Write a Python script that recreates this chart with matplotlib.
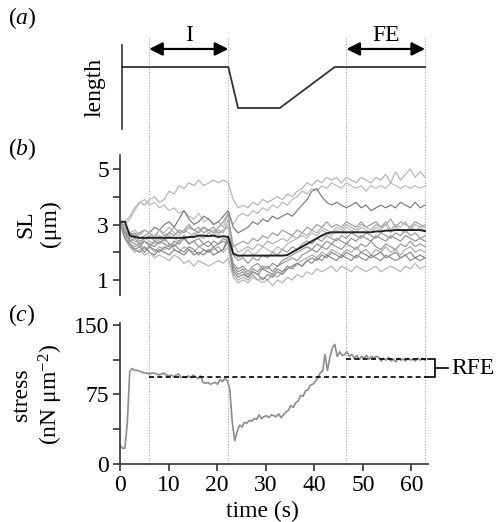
import numpy as np
import matplotlib
matplotlib.use("Agg")
import matplotlib.pyplot as plt
import matplotlib.transforms as mtransforms

plt.rcParams['font.family'] = ['Liberation Serif', 'DejaVu Serif']
plt.rcParams['mathtext.fontset'] = 'custom'
plt.rcParams['mathtext.rm'] = 'Liberation Serif'
plt.rcParams['mathtext.it'] = 'Liberation Serif:italic'

FS = 17
T_END = 62.8

# (a) length protocol: time (s), relative length
length_t = [0.4, 22.3, 24.3, 32.9, 44.2, T_END]
length_y = [1, 1, 0, 0, 1, 1]

# phase boundaries (s)
bounds = [6.0, 22.3, 46.6, T_END]

# (b) sarcomere lengths (um), one sample per ~1 s
sl_traces = [
    [3.0, 3.1, 3.3, 3.6, 3.8, 3.7, 3.9, 4.0, 3.8, 3.9, 4.2, 4.1, 4.4, 4.3, 4.5, 4.4, 4.6, 4.4, 4.5, 4.6, 4.5, 4.6, 4.5,
     3.9, 3.6, 3.7, 3.6, 3.8, 3.7, 3.9, 3.8, 3.9, 4.0, 3.9, 4.1, 4.0, 4.2, 4.3, 4.5, 4.4, 4.6, 4.5, 4.7, 4.6, 4.7, 4.5,
     4.7, 4.6, 4.5, 4.7, 4.6, 4.5, 4.7, 4.6, 4.8, 4.5, 4.9, 4.6, 4.8, 5.0, 4.7, 4.9, 4.7],
    [3.0, 3.0, 3.2, 3.5, 3.8, 3.9, 3.7, 3.8, 3.6, 3.7, 3.5, 3.6, 3.4, 3.5, 3.3, 3.2, 3.4, 3.1, 3.2, 3.0, 3.1, 2.9, 3.4,
     3.0, 3.3, 3.4, 3.3, 3.5, 3.4, 3.6, 3.5, 3.7, 3.6, 3.8, 3.7, 3.9, 4.0, 4.2, 4.1, 4.3, 4.2, 4.4, 4.3, 4.5, 4.4, 4.3,
     4.5, 4.4, 4.3, 4.4, 4.2, 4.4, 4.3, 4.4, 4.3, 4.5, 4.4, 4.3, 4.4, 4.3, 4.4, 4.3, 4.4],
    [3.1, 2.9, 2.7, 2.6, 2.7, 2.8, 2.7, 2.9, 2.8, 3.0, 3.1, 2.9, 3.2, 3.5, 3.2, 3.0, 3.1, 3.3, 3.2, 3.0, 3.1, 3.3, 3.5,
     2.9, 2.7, 2.8, 2.9, 3.1, 3.0, 3.2, 3.1, 3.3, 3.2, 3.3, 3.4, 3.3, 3.5, 3.7, 3.9, 4.2, 4.3, 4.0, 3.8, 3.7, 3.8, 3.7,
     3.6, 3.7, 3.8, 3.6, 3.7, 3.5, 3.6, 3.7, 3.6, 3.7, 3.6, 3.8, 3.7, 3.6, 3.8, 3.6, 3.7],
    [3.0, 2.8, 2.6, 2.7, 2.5, 2.6, 2.7, 2.5, 2.8, 2.6, 2.7, 2.9, 2.7, 2.8, 3.0, 2.8, 2.9, 2.7, 2.8, 2.9, 2.7, 2.8, 2.9,
     2.2, 2.3, 2.4, 2.3, 2.5, 2.4, 2.6, 2.5, 2.7, 2.6, 2.8, 2.7, 2.6, 2.8, 2.7, 2.9, 2.8, 3.0, 2.9, 3.1, 2.9, 3.0, 2.9,
     3.1, 3.0, 2.9, 3.1, 2.9, 3.0, 3.1, 2.9, 3.0, 3.2, 2.9, 3.1, 3.0, 2.9, 3.1, 3.0, 2.9],
    [3.1, 2.8, 2.5, 2.4, 2.3, 2.5, 2.4, 2.3, 2.5, 2.4, 2.6, 2.5, 2.4, 2.6, 2.5, 2.7, 2.6, 2.5, 2.7, 2.6, 2.8, 2.7, 3.2,
     2.3, 2.0, 2.1, 2.2, 2.1, 2.3, 2.2, 2.4, 2.3, 2.4, 2.5, 2.4, 2.6, 2.5, 2.7, 2.6, 2.8, 2.7, 2.9, 2.8, 2.7, 2.9, 2.8,
     3.0, 2.9, 2.8, 3.0, 2.9, 2.8, 3.0, 2.9, 3.1, 2.8, 3.0, 2.9, 3.1, 2.8, 3.0, 2.9, 3.0],
    [3.0, 2.7, 2.4, 2.3, 2.2, 2.4, 2.3, 2.2, 2.4, 2.3, 2.2, 2.4, 2.3, 2.5, 2.3, 2.4, 2.2, 2.3, 2.4, 2.2, 2.3, 2.4, 2.3,
     1.5, 1.3, 1.4, 1.2, 1.4, 1.3, 1.5, 1.4, 1.6, 1.5, 1.7, 1.8, 1.9, 2.0, 2.1, 2.2, 2.1, 2.3, 2.2, 2.4, 2.3, 2.5, 2.4,
     2.3, 2.5, 2.4, 2.6, 2.5, 2.4, 2.6, 2.5, 2.4, 2.6, 2.5, 2.4, 2.6, 2.5, 2.4, 2.5, 2.4],
    [3.1, 2.6, 2.3, 2.2, 2.3, 2.1, 2.2, 2.0, 2.2, 2.1, 2.3, 2.1, 2.0, 2.2, 2.1, 2.0, 2.2, 2.1, 2.0, 2.1, 2.2, 2.0, 2.2,
     1.2, 1.0, 1.1, 1.0, 1.2, 1.0, 1.1, 1.0, 1.2, 1.1, 1.3, 1.4, 1.5, 1.6, 1.7, 1.8, 1.9, 1.8, 2.0, 1.9, 2.1, 2.0, 1.9,
     2.1, 2.0, 2.2, 2.0, 2.1, 1.9, 2.1, 2.0, 2.2, 2.0, 2.1, 1.9, 2.1, 2.2, 2.0, 2.1, 2.0],
    [3.0, 2.5, 2.2, 2.1, 2.0, 2.2, 2.0, 1.9, 2.1, 2.0, 1.9, 2.1, 2.0, 1.9, 2.1, 1.9, 2.0, 1.9, 2.1, 1.9, 2.0, 2.1, 2.6,
     1.3, 1.1, 1.2, 1.1, 1.3, 1.2, 1.0, 1.2, 1.1, 1.3, 1.2, 1.4, 1.5, 1.6, 1.5, 1.7, 1.8, 1.7, 1.9, 1.8, 2.0, 1.9, 1.8,
     2.0, 1.9, 1.8, 2.0, 1.9, 1.8, 1.9, 2.0, 1.8, 1.9, 2.0, 1.8, 1.9, 2.0, 1.8, 1.9, 1.8],
    [3.0, 2.6, 2.2, 2.0, 2.1, 1.9, 2.0, 1.8, 1.9, 1.8, 1.7, 1.9, 1.8, 1.6, 1.7, 1.5, 1.7, 1.6, 1.5, 1.6, 1.7, 1.6, 1.8,
     1.1, 0.9, 1.0, 0.9, 1.1, 1.0, 0.9, 1.0, 0.8, 1.0, 0.9, 1.1, 1.0, 1.2, 1.1, 1.3, 1.2, 1.4, 1.3, 1.4, 1.5, 1.3, 1.5,
     1.4, 1.3, 1.5, 1.4, 1.3, 1.4, 1.5, 1.3, 1.4, 1.5, 1.4, 1.3, 1.5, 1.4, 1.6, 1.4, 1.5],
    [3.1, 2.8, 2.4, 2.5, 2.3, 2.4, 2.2, 2.4, 2.3, 2.5, 2.3, 2.2, 2.4, 2.6, 2.3, 2.4, 2.5, 2.3, 2.2, 2.4, 2.3, 2.5, 2.4,
     1.6, 1.4, 1.5, 1.3, 1.5, 1.6, 1.4, 1.5, 1.3, 1.5, 1.6, 1.7, 1.8, 1.7, 1.9, 2.0, 2.1, 2.0, 2.2, 2.1, 2.3, 2.2, 2.1,
     2.3, 2.2, 2.1, 2.3, 2.2, 2.4, 2.2, 2.1, 2.3, 2.2, 2.1, 2.3, 2.2, 2.4, 2.2, 2.3, 2.2],
    [3.0, 2.9, 2.7, 2.8, 2.6, 2.8, 2.7, 2.6, 2.8, 2.7, 2.9, 2.7, 2.6, 2.8, 2.7, 2.6, 2.8, 2.9, 2.7, 2.8, 2.6, 2.8, 3.0,
     2.0, 1.8, 1.9, 2.1, 1.9, 2.0, 2.2, 2.1, 2.0, 2.2, 2.1, 2.3, 2.4, 2.5, 2.6, 2.5, 2.7, 2.6, 2.8, 2.7, 2.6, 2.8, 2.7,
     2.9, 2.8, 2.7, 2.9, 2.8, 2.7, 2.9, 2.8, 3.0, 2.7, 2.9, 2.8, 2.7, 2.9, 2.8, 2.9, 2.8],
    [3.1, 2.5, 2.3, 2.1, 2.2, 2.0, 2.2, 2.1, 2.0, 2.2, 2.1, 2.3, 2.1, 2.0, 2.2, 2.1, 1.9, 2.1, 2.0, 2.2, 2.0, 2.1, 2.4,
     1.4, 1.2, 1.3, 1.1, 1.3, 1.2, 1.4, 1.3, 1.2, 1.4, 1.3, 1.5, 1.4, 1.6, 1.5, 1.7, 1.6, 1.8, 1.7, 1.9, 1.8, 1.7, 1.9,
     1.8, 1.7, 1.9, 1.8, 1.7, 1.9, 1.8, 1.7, 1.9, 1.8, 1.7, 1.8, 1.9, 1.7, 1.8, 1.7, 1.8],
    [3.0, 2.7, 2.5, 2.6, 2.4, 2.5, 2.6, 2.4, 2.6, 2.5, 2.7, 2.6, 2.8, 2.7, 2.9, 2.8, 2.7, 2.9, 2.8, 2.7, 2.9, 3.1, 3.4,
     1.9, 1.7, 1.8, 1.6, 1.8, 1.7, 1.9, 1.8, 2.0, 1.9, 2.1, 2.0, 2.2, 2.1, 2.3, 2.4, 2.3, 2.5, 2.4, 2.6, 2.5, 2.4, 2.6,
     2.5, 2.7, 2.6, 2.5, 2.7, 2.6, 2.5, 2.7, 2.6, 2.5, 2.7, 2.6, 2.8, 2.6, 2.7, 2.5, 2.6],
]
sl_colors = ['#b3b3b3', '#b8b8b8', '#7a7a7a', '#9c9c9c', '#b0b0b0', '#8f8f8f', '#aaaaaa',
             '#858585', '#b3b3b3', '#949494', '#b8b8b8', '#8a8a8a', '#999999']

sl_mean = [3.1, 3.1, 2.6, 2.55, 2.52, 2.52, 2.52, 2.52, 2.52, 2.52, 2.52, 2.52, 2.52, 2.52, 2.55, 2.55, 2.6, 2.6,
           2.58, 2.6, 2.55, 2.58, 2.55, 1.95, 1.88, 1.88, 1.88, 1.88, 1.88, 1.88, 1.88, 1.88, 1.88, 1.88, 1.9, 2.0,
           2.1, 2.2, 2.3, 2.4, 2.5, 2.6, 2.68, 2.72, 2.72, 2.72, 2.72, 2.72, 2.72, 2.72, 2.72, 2.72, 2.75, 2.75,
           2.78, 2.78, 2.8, 2.8, 2.8, 2.8, 2.8, 2.8, 2.76]

# (c) stress (nN um^-2), one sample per ~0.5 s
stress = [20, 17, 17, 45, 100, 103, 101, 101, 100, 99, 98, 98, 97, 98, 98, 97, 96, 97, 98, 96,
          95, 96, 94, 96, 97, 93, 94, 93, 95, 93, 96, 94, 92, 95, 88, 87, 88, 86, 87, 88,
          86, 91, 89, 92, 90, 80, 45, 25, 35, 42, 40, 45, 44, 47, 46, 49, 48, 53, 49, 51,
          52, 50, 53, 52, 51, 54, 50, 53, 56, 58, 63, 61, 66, 68, 74, 73, 79, 80, 85, 86,
          89, 93, 98, 100, 118, 101, 115, 125, 129, 116, 121, 117, 118, 121, 116, 118, 114, 117, 113, 116,
          114, 117, 113, 116, 114, 116, 115, 111, 114, 112, 115, 111, 113, 110, 114, 112, 113, 111, 114, 112,
          113, 111, 114, 112, 114, 112]
rfe_before = 93.5
rfe_after = 113

fig = plt.figure(figsize=(4.99, 5.22), dpi=100)
W, H = 499.0, 522.0
left = 120 / W
width = 308 / W
XMAX = 63.4

ax_a = fig.add_axes([left, 1 - 129 / H, width, 84 / H])
ax_b = fig.add_axes([left, 1 - 295.3 / H, width, 140.2 / H])
ax_c = fig.add_axes([left, 1 - 464 / H, width, 141 / H])

for ax in (ax_a, ax_b, ax_c):
    ax.set_xlim(0, XMAX)
    ax.patch.set_alpha(0)
    for s in ('top', 'right'):
        ax.spines[s].set_visible(False)
    for s in ('left', 'bottom'):
        ax.spines[s].set_linewidth(1.2)
        ax.spines[s].set_color('#333333')
    ax.tick_params(direction='out', length=5, width=1.2, color='#333333',
                   labelsize=FS, pad=3)

# dotted phase lines spanning all panels
trans = mtransforms.blended_transform_factory(ax_c.transData, fig.transFigure)
for b in bounds:
    fig.add_artist(plt.Line2D([b, b], [1 - 464 / H, 1 - 36 / H], transform=trans,
                              color='#a8a8a8', lw=0.8, ls=(0, (1, 1.5)), zorder=0))

# (a)
ax_a.plot(length_t, length_y, color='#333333', lw=1.3)
ax_a.set_ylim(-0.512, 1.537)
ax_a.spines['bottom'].set_visible(False)
ax_a.spines['left'].set_position(('data', 0.4))
ax_a.set_xticks([])
ax_a.set_yticks([])
for x0, x1, lab in [(bounds[0], bounds[1], 'I'), (bounds[2], bounds[3], 'FE')]:
    ax_a.annotate('', xy=(x1, 1.44), xytext=(x0, 1.44), annotation_clip=False,
                  arrowprops=dict(arrowstyle='<|-|>', color='black', lw=1.6,
                                  mutation_scale=20, shrinkA=0, shrinkB=0))
    ax_a.text((x0 + x1) / 2, 1.78, lab, ha='center', va='center', fontsize=FS, clip_on=False)

# (b)
for tr, c in zip(sl_traces, sl_colors):
    ax_b.plot(np.linspace(0, T_END, len(tr)), tr, color=c, lw=0.85)
ax_b.plot(np.linspace(0, T_END, len(sl_mean)), sl_mean, color='#222222', lw=1.4)
ax_b.set_ylim(0.45, 5.5)
ax_b.set_yticks([1, 2, 3, 4, 5])
ax_b.set_yticklabels(['1', '', '3', '', '5'])
ax_b.spines['bottom'].set_visible(False)
ax_b.set_xticks([])

# (c)
ax_c.plot(np.linspace(0, T_END, len(stress)), stress, color='#8c8c8c', lw=1.2)
ax_c.plot([bounds[0], XMAX], [rfe_before] * 2, color='black', lw=1.2, ls=(0, (3, 2)))
ax_c.plot([bounds[2], XMAX], [rfe_after] * 2, color='black', lw=1.2, ls=(0, (3, 2)))
ax_c.set_ylim(0, 152)
ax_c.set_yticks([0, 37.5, 75, 112.5, 150])
ax_c.set_yticklabels(['0', '', '75', '', '150'])
ax_c.set_xticks([0, 10, 20, 30, 40, 50, 60])
bx = 64.8
ax_c.plot([XMAX, bx, bx, XMAX], [rfe_after, rfe_after, rfe_before, rfe_before],
          color='black', lw=1.2, clip_on=False)
mid = (rfe_after + rfe_before) / 2
ax_c.plot([bx, 67.5], [mid, mid], color='black', lw=1.2, clip_on=False)
ax_c.text(68.3, mid, 'RFE', ha='left', va='center', fontsize=FS, clip_on=False)

# labels
fig.text(95 / W, 1 - 87 / H, 'length', rotation=90, ha='center', va='center', fontsize=FS)
fig.text(38 / W, 1 - 224 / H, 'SL\n(μm)', rotation=90, ha='center', va='center',
         fontsize=FS, multialignment='center', linespacing=1.25)
fig.text(38 / W, 1 - 395 / H, 'stress\n(nN μm$^{-2}$)', rotation=90, ha='center', va='center',
         fontsize=FS, multialignment='center', linespacing=1.25)
fig.text(262 / W, 1 - 511 / H, 'time (s)', ha='center', va='center', fontsize=FS)
fig.text(8 / W, 1 - 18 / H, '($a$)', ha='left', va='center', fontsize=FS)
fig.text(8 / W, 1 - 149 / H, '($b$)', ha='left', va='center', fontsize=FS)
fig.text(8 / W, 1 - 315 / H, '($c$)', ha='left', va='center', fontsize=FS)

fig.savefig('out.png', dpi=100)
